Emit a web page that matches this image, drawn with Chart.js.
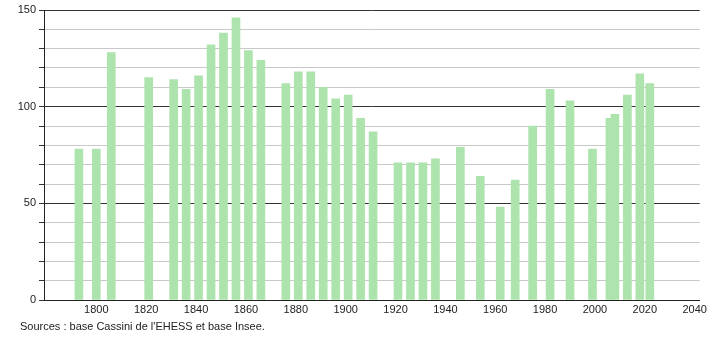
<!DOCTYPE html>
<html>
<head>
<meta charset="utf-8">
<script src="https://cdn.jsdelivr.net/npm/chart.js@4/dist/chart.umd.min.js"></script>
<style>
html,body{margin:0;padding:0;background:#fff;}
#wrap{width:710px;height:340px;position:relative;}
</style>
</head>
<body>
<div id="wrap"><canvas id="c" width="710" height="340"></canvas></div>
<script>
const years = [1793,1800,1806,1821,1831,1836,1841,1846,1851,1856,1861,1866,1876,1881,1886,1891,1896,1901,1906,1911,1921,1926,1931,1936,1946,1954,1962,1968,1975,1982,1990,1999,2006,2008,2013,2018,2022];
const population = [78,78,128,115,114,109,116,132,138,146,129,124,112,118,118,110,104,106,94,87,71,71,71,73,79,64,48,62,90,109,103,78,94,96,106,117,112];
const yTickLabels = [0,50,100,150];
const xTickLabels = [1800,1820,1840,1860,1880,1900,1920,1940,1960,1980,2000,2020,2040];
const sourceText = "Sources : base Cassini de l'EHESS et base Insee.";

const points = years.map((y,i)=>({x:y,y:population[i]}));

const sourcePlugin = {
  id:'sourceText',
  afterDraw(chart){
    const ctx = chart.ctx;
    ctx.save();
    ctx.font = '11px "Liberation Sans", Arial, sans-serif';
    ctx.fillStyle = '#222';
    ctx.textBaseline = 'middle';
    ctx.textAlign = 'left';
    ctx.fillText(sourceText, 20, 327);
    ctx.restore();
  }
};

new Chart(document.getElementById('c'), {
  type:'bar',
  data:{datasets:[{
    data:points,
    backgroundColor:'#ade3ad',
    borderWidth:0,
    barThickness:8
  }]},
  options:{
    responsive:false,
    animation:false,
    devicePixelRatio:1,
    layout:{padding:{left:0,right:10,top:10,bottom:20}},
    plugins:{legend:{display:false},tooltip:{enabled:false}},
    scales:{
      x:{
        type:'linear',
        offset:false,
        min:1779,max:2042,
        afterBuildTicks(s){ s.ticks = xTickLabels.map(v=>({value:v})); },
        afterFit(s){s.height=20;},
        grid:{display:false,drawTicks:false,tickLength:0},
        border:{display:true,color:'#222',width:1},
        ticks:{
          autoSkip:false,maxRotation:0,
          color:'#222',font:{family:'"Liberation Sans", Arial, sans-serif',size:11},
          padding:3,
          callback:(v)=>String(v)
        }
      },
      y:{
        min:0,max:150,
        afterFit(s){s.width=44;},
        grid:{
          color:(c)=>c.tick && c.tick.value%50===0 ? '#333' : '#c8c8c8',
          tickColor:'#333',
          tickLength:5,
          lineWidth:1
        },
        border:{display:true,color:'#222',width:1},
        ticks:{
          stepSize:10,autoSkip:false,
          color:'#222',font:{family:'"Liberation Sans", Arial, sans-serif',size:11},
          padding:3,
          callback:(v)=>yTickLabels.includes(v)?String(v):''
        }
      }
    }
  },
  plugins:[sourcePlugin]
});
</script>
</body>
</html>
